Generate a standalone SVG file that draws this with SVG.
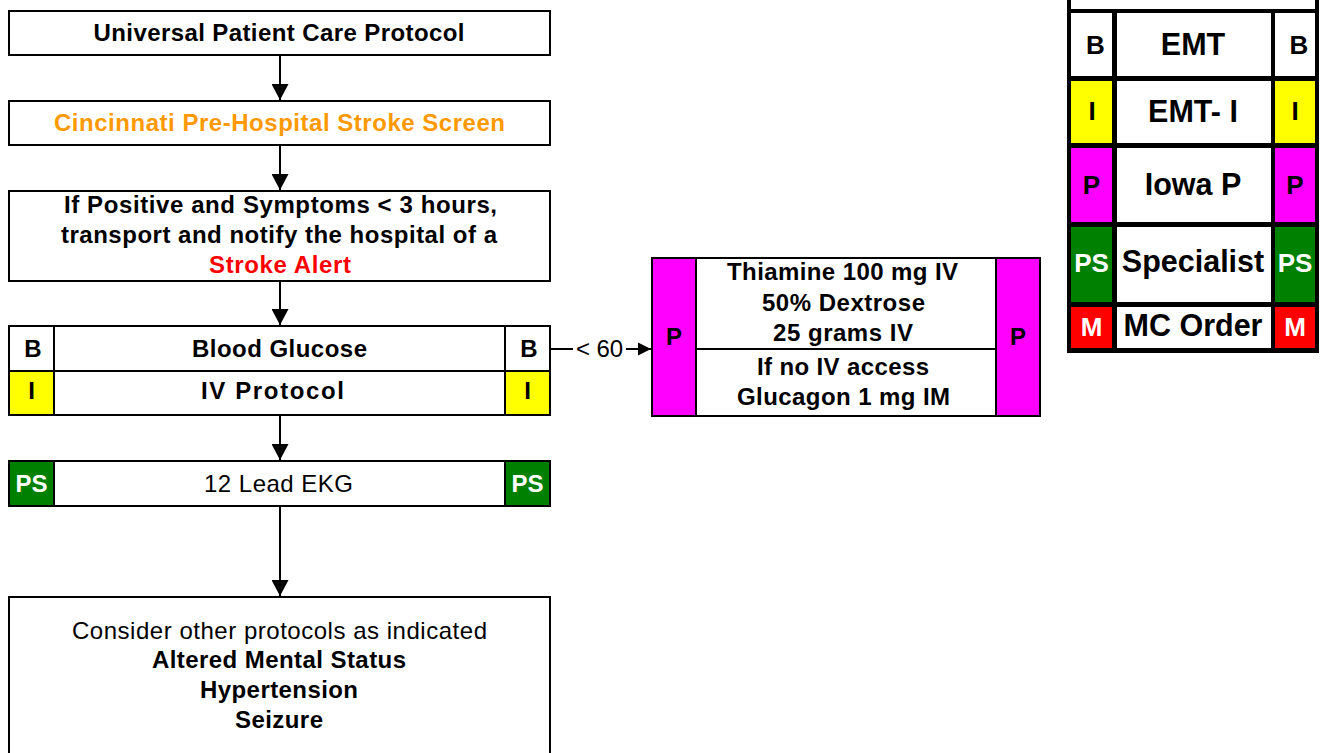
<svg xmlns="http://www.w3.org/2000/svg" width="1322" height="753" viewBox="0 0 1322 753">
<defs>
<style>
.box{fill:#fff;stroke:#000;stroke-width:2}
.cell{stroke:#000;stroke-width:2}
.t{font-family:'Liberation Sans',Arial,sans-serif;font-size:24px;font-weight:bold;text-anchor:middle;fill:#000}
.n{font-weight:normal}
.lg{font-size:30.5px}
.ls{font-size:26px}
.c{stroke:#000;stroke-width:2;fill:none}
.Y{fill:#ffff00}.M{fill:#ff00ff}.G{fill:#008000}.R{fill:#ff0000}.W{fill:#fff}
</style>
<marker id="ah" markerUnits="userSpaceOnUse" markerWidth="17" markerHeight="17" refX="16" refY="8.5" orient="auto">
<path d="M0,0 L16,8.5 L0,17 z" fill="#000"/>
</marker>
<marker id="ah2" markerUnits="userSpaceOnUse" markerWidth="14" markerHeight="14" refX="13" refY="7" orient="auto">
<path d="M0,0.5 L13,7 L0,13.5 z" fill="#000"/>
</marker>
</defs>
<rect width="1322" height="753" fill="#fff"/>

<g id="connectors">
<line class="c" x1="280" y1="56" x2="280" y2="100" marker-end="url(#ah)"/>
<line class="c" x1="280" y1="146" x2="280" y2="190" marker-end="url(#ah)"/>
<line class="c" x1="280" y1="282" x2="280" y2="325" marker-end="url(#ah)"/>
<line class="c" x1="280" y1="416" x2="280" y2="460" marker-end="url(#ah)"/>
<line class="c" x1="280" y1="506" x2="280" y2="596" marker-end="url(#ah)"/>
<line class="c" x1="551" y1="349" x2="573" y2="349"/>
<line class="c" x1="626" y1="349" x2="651" y2="349" marker-end="url(#ah2)"/>
<text class="t n" x="599.5" y="357" textLength="47" lengthAdjust="spacing">&lt; 60</text>
</g>

<g id="universal">
<rect class="box" x="9" y="11" width="541" height="44"/>
<text class="t" x="279" y="41" textLength="371" lengthAdjust="spacing">Universal Patient Care Protocol</text>
</g>

<g id="cincinnati">
<rect class="box" x="9" y="101" width="541" height="44"/>
<text class="t" x="279.5" y="131" textLength="451" lengthAdjust="spacing" style="fill:#ff9900">Cincinnati Pre-Hospital Stroke Screen</text>
</g>

<g id="positive">
<rect class="box" x="9" y="191" width="541" height="90"/>
<text class="t" x="280.5" y="213" textLength="433" lengthAdjust="spacing">If Positive and Symptoms &lt; 3 hours,</text>
<text class="t" x="279" y="243" textLength="436" lengthAdjust="spacing">transport and notify the hospital of a</text>
<text class="t" x="280" y="273" textLength="142" lengthAdjust="spacing" style="fill:#ff0000">Stroke Alert</text>
</g>

<g id="glucose">
<rect class="box" x="9" y="326" width="541" height="89"/>
<rect class="cell W" x="9" y="326" width="45" height="45"/>
<rect class="cell W" x="505" y="326" width="45" height="45"/>
<rect class="cell Y" x="9" y="371" width="45" height="44"/>
<rect class="cell Y" x="505" y="371" width="45" height="44"/>
<line class="c" x1="54" y1="371" x2="505" y2="371"/>
<text class="t" x="33" y="357">B</text>
<text class="t" x="529" y="357">B</text>
<text class="t" x="279.5" y="357" textLength="175" lengthAdjust="spacing">Blood Glucose</text>
<text class="t" x="31.5" y="399">I</text>
<text class="t" x="527.5" y="399">I</text>
<text class="t" x="272.5" y="399" textLength="143" lengthAdjust="spacing">IV Protocol</text>
</g>

<g id="ekg">
<rect class="box" x="9" y="461" width="541" height="45"/>
<rect class="cell G" x="9" y="461" width="45" height="45"/>
<rect class="cell G" x="505" y="461" width="45" height="45"/>
<text class="t" x="31.5" y="492" style="fill:#fff">PS</text>
<text class="t" x="527.5" y="492" style="fill:#fff">PS</text>
<text class="t n" x="278.5" y="492" textLength="149" lengthAdjust="spacing">12 Lead EKG</text>
</g>

<g id="consider">
<rect class="box" x="9" y="597" width="541" height="170"/>
<text class="t n" x="279.5" y="639" textLength="415" lengthAdjust="spacing">Consider other protocols as indicated</text>
<text class="t" x="279" y="668" textLength="254" lengthAdjust="spacing">Altered Mental Status</text>
<text class="t" x="279" y="698" textLength="158" lengthAdjust="spacing">Hypertension</text>
<text class="t" x="279" y="728" textLength="88" lengthAdjust="spacing">Seizure</text>
</g>

<g id="dextrose">
<rect class="box" x="652" y="258" width="388" height="158"/>
<rect class="cell M" x="652" y="258" width="44" height="158"/>
<rect class="cell M" x="996" y="258" width="44" height="158"/>
<line class="c" x1="696" y1="349" x2="996" y2="349"/>
<text class="t" x="674" y="345">P</text>
<text class="t" x="1018" y="345">P</text>
<text class="t" x="842.5" y="280" textLength="231" lengthAdjust="spacing">Thiamine 100 mg IV</text>
<text class="t" x="843.5" y="311" textLength="163" lengthAdjust="spacing">50% Dextrose</text>
<text class="t" x="843" y="341" textLength="140" lengthAdjust="spacing">25 grams IV</text>
<text class="t" x="843" y="375" textLength="172" lengthAdjust="spacing">If no IV access</text>
<text class="t" x="843.5" y="405" textLength="213" lengthAdjust="spacing">Glucagon 1 mg IM</text>
</g>

<g id="legend">
<rect x="1067" y="-60" width="252" height="413" fill="#000"/>
<rect class="W" x="1071" y="-60" width="244" height="69"/>
<rect class="W" x="1071" y="13" width="41" height="63"/>
<rect class="W" x="1117" y="13" width="154" height="63"/>
<rect class="W" x="1275" y="13" width="40" height="63"/>
<rect class="Y" x="1071" y="81" width="41" height="62"/>
<rect class="W" x="1117" y="81" width="154" height="62"/>
<rect class="Y" x="1275" y="81" width="40" height="62"/>
<rect class="M" x="1071" y="148" width="41" height="74"/>
<rect class="W" x="1117" y="148" width="154" height="74"/>
<rect class="M" x="1275" y="148" width="40" height="74"/>
<rect class="G" x="1071" y="227" width="41" height="75"/>
<rect class="W" x="1117" y="227" width="154" height="75"/>
<rect class="G" x="1275" y="227" width="40" height="75"/>
<rect class="R" x="1071" y="307" width="41" height="41"/>
<rect class="W" x="1117" y="307" width="154" height="41"/>
<rect class="R" x="1275" y="307" width="40" height="41"/>
<text class="t ls" x="1095.5" y="53.5">B</text>
<text class="t lg" x="1193" y="55">EMT</text>
<text class="t ls" x="1299" y="53.5">B</text>
<text class="t ls" x="1092" y="120">I</text>
<text class="t lg" x="1193" y="122">EMT- I</text>
<text class="t ls" x="1295" y="120">I</text>
<text class="t ls" x="1091.5" y="194">P</text>
<text class="t lg" x="1193" y="195">Iowa P</text>
<text class="t ls" x="1295" y="194">P</text>
<text class="t ls" x="1091.5" y="272" style="fill:#fff">PS</text>
<text class="t lg" x="1193" y="272">Specialist</text>
<text class="t ls" x="1295" y="272" style="fill:#fff">PS</text>
<text class="t ls" x="1091.5" y="336" style="fill:#fff">M</text>
<text class="t lg" x="1193" y="336">MC Order</text>
<text class="t ls" x="1295" y="336" style="fill:#fff">M</text>
</g>
</svg>
